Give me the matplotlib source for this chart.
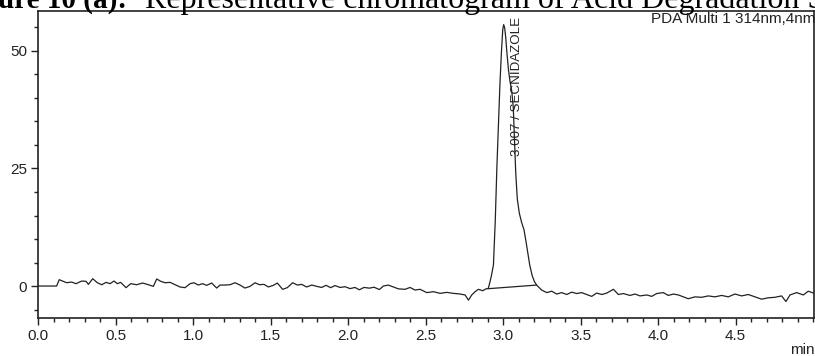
import numpy as np
import matplotlib.pyplot as plt
from matplotlib.ticker import MultipleLocator

# trace: (retention time min, signal mAU)
baseline_before = [
    (0.0, 0.0), (0.12, 0.0), (0.137, 1.35), (0.185, 0.7), (0.217, 0.85), (0.245, 0.5),
    (0.282, 1.06), (0.31, 1.0), (0.325, 0.35), (0.353, 1.56), (0.383, 0.7), (0.411, 0.28),
    (0.439, 0.78), (0.465, 0.5), (0.49, 1.06), (0.512, 0.5), (0.533, 0.78), (0.568, -0.35),
    (0.598, 0.5), (0.637, 0.28), (0.675, 0.64), (0.712, 0.28), (0.744, -0.07), (0.766, 1.5),
    (0.792, 1.0), (0.819, 0.7), (0.852, 0.78), (0.884, 0.28), (0.916, -0.2), (0.948, -0.35),
    (0.981, 0.5), (1.006, 0.7), (1.034, 0.21), (1.062, 0.5), (1.088, 0.14), (1.12, 0.64),
    (1.153, -0.43), (1.174, 0.21), (1.206, 0.21), (1.239, 0.28), (1.271, 0.7), (1.303, 0.21),
    (1.335, -0.43), (1.368, -0.07), (1.4, 0.7), (1.428, 0.28), (1.458, 0.35), (1.486, -0.2),
    (1.518, 0.14), (1.544, 0.64), (1.578, -0.7), (1.608, -0.35), (1.643, 0.7), (1.673, 0.21),
    (1.701, 0.35), (1.733, -0.2), (1.766, 0.21), (1.798, -0.07), (1.83, -0.3), (1.858, 0.15),
    (1.888, -0.35), (1.916, 0.1), (1.948, -0.3), (1.981, -0.15), (2.013, -0.55), (2.045, -0.3),
    (2.073, -0.8), (2.103, -0.3), (2.138, -0.45), (2.168, -0.25), (2.202, -0.75), (2.228, 0.0),
    (2.26, 0.2), (2.292, -0.2), (2.325, -0.6), (2.368, -0.7), (2.4, -0.3), (2.432, -0.85),
    (2.465, -0.7), (2.508, -1.4), (2.551, -1.2), (2.594, -1.56), (2.637, -1.35), (2.68, -1.56),
    (2.723, -1.7), (2.755, -1.9), (2.777, -3.0), (2.798, -1.9), (2.82, -1.2), (2.841, -0.7),
    (2.869, -1.0), (2.89, -0.6),
]

peak = [
    (2.905, -0.5), (2.915, 0.8), (2.925, 2.2), (2.938, 4.5), (2.95, 14), (2.96, 25),
    (2.97, 34), (2.98, 43), (2.99, 50), (2.998, 54.5), (3.004, 55.6), (3.01, 55),
    (3.017, 53), (3.024, 50), (3.035, 46), (3.045, 43.5), (3.056, 41.5), (3.066, 38),
    (3.074, 31), (3.082, 24), (3.092, 18.5), (3.105, 15.5), (3.12, 13.5), (3.135, 12),
    (3.148, 9.5), (3.16, 7), (3.172, 4.5), (3.188, 2.2), (3.203, 0.9), (3.217, 0.2),
]

baseline_after = [
    (3.249, -0.85), (3.282, -1.4), (3.314, -1.1), (3.346, -1.7), (3.378, -1.4), (3.411, -1.8),
    (3.443, -1.3), (3.475, -1.6), (3.507, -1.4), (3.54, -1.8), (3.572, -2.2), (3.604, -1.5),
    (3.637, -1.8), (3.669, -1.5), (3.712, -0.7), (3.744, -1.8), (3.776, -1.6), (3.819, -2.0),
    (3.851, -1.7), (3.884, -2.1), (3.927, -1.9), (3.959, -2.2), (3.991, -1.6), (4.034, -1.4),
    (4.066, -2.0), (4.099, -1.7), (4.131, -1.9), (4.163, -2.3), (4.195, -2.7), (4.238, -2.3),
    (4.281, -2.4), (4.324, -2.1), (4.367, -2.3), (4.41, -2.0), (4.453, -2.3), (4.496, -1.7),
    (4.539, -2.1), (4.582, -1.8), (4.625, -2.3), (4.668, -2.8), (4.711, -2.5), (4.754, -2.4),
    (4.797, -2.1), (4.825, -3.3), (4.851, -1.9), (4.894, -1.4), (4.937, -1.9), (4.969, -1.1),
    (5.012, -1.6),
]

# integration baseline under the peak
integ_t = [2.903, 3.215]
integ_v = [-0.57, 0.2]

peak_rt = 3.007
peak_name = "SECNIDAZOLE"

W, H = 815, 356

fig = plt.figure(figsize=(W / 100, H / 100), dpi=100)
ax = fig.add_axes([38 / W, 38 / H, 776 / W, 307 / H])

trace = np.array(baseline_before + peak + baseline_after)
ax.plot(trace[:, 0], trace[:, 1], color='#222222', lw=0.9)
ax.plot(integ_t, integ_v, color='#222222', lw=0.9)

ax.text(3.092, 57.3, f"{peak_rt:.3f} / {peak_name}", rotation=90, ha='center', va='top',
        fontsize=9.6, family='Liberation Sans', color='#222222')

ax.set_xlim(0, 5.006)
ax.set_ylim(-6.8, 58.5)
ax.xaxis.set_minor_locator(MultipleLocator(0.1))
ax.yaxis.set_major_locator(MultipleLocator(25))
ax.yaxis.set_minor_locator(MultipleLocator(5))
xt = np.arange(0, 4.6, 0.5)
ax.set_xticks(xt)
ax.set_xticklabels([f"{v:.1f}" for v in xt])

ax.tick_params(which='both', direction='out', width=1, colors='#222222', labelsize=11, pad=3)
ax.tick_params(which='major', length=5)
ax.tick_params(which='minor', length=3)
for lab in ax.get_xticklabels() + ax.get_yticklabels():
    lab.set_family('Liberation Sans')

for s in ax.spines.values():
    s.set_linewidth(1.2)
    s.set_color('#222222')

# caption (cut off in the source image) and detector note
fig.text(-2 / W, 1 - 8 / H, "ure 10 (a):", fontsize=21, weight='bold',
         family='Liberation Serif', va='baseline')
fig.text(145 / W, 1 - 8 / H, "Representative chromatogram of Acid Degradation Study",
         fontsize=23, family='Liberation Serif', va='baseline')
fig.text(1.0, 1 - 12 / H, "PDA Multi 1 314nm,4nm", ha='right', va='top',
         fontsize=11, family='Liberation Sans', color='#222222')
fig.text(790 / W, 2 / H, "min", fontsize=11, family='Liberation Sans', va='baseline',
         color='#222222')

fig.savefig("out.png", dpi=100)
